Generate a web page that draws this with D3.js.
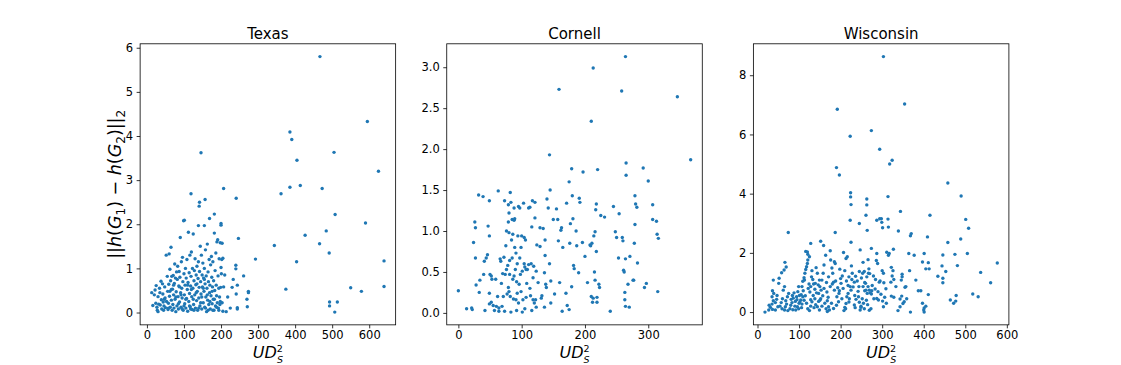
<!DOCTYPE html>
<html><head><meta charset="utf-8">
<script src="https://cdn.jsdelivr.net/npm/d3@7"></script>
<style>
body{margin:0;background:#fff}
svg{display:block}
text{font-family:"DejaVu Sans",sans-serif;fill:#000}
</style></head>
<body><svg id="c" width="1121" height="365"></svg>
<script>
const titles = ["Texas", "Cornell", "Wisconsin"];

const texasPoints = [
[13,0.45],[16,0.16],[22,0.51],[24,0.21],[25,0.61],[27,0.12],[28,0.05],[30,0.02],[30,0.36],[32,0.19],[34,0.55],[36,0.17],[38,0.71],[39,0.29],[40,0.08],[42,0.65],[43,0.42],[44,0.24],[46,0.15],[48,0.58],[49,0.33],[50,0.11],
[52,1.30],[55,0.82],[56,0.48],[57,0.07],[58,0.21],[59,0.64],[60,1.33],[61,0.37],[62,0.98],[63,0.12],[64,0.72],[65,1.48],[66,0.28],[67,0.82],[68,0.05],[69,0.53],[70,0.18],[71,0.84],[72,0.40],[73,0.10],[74,0.66],[75,1.10],[76,0.30],[77,0.78],[78,0.02],[79,0.47],[80,0.92],
[81,0.15],[82,0.75],[83,1.05],[84,0.36],[85,0.08],[86,0.60],[87,0.93],[88,0.24],[89,0.80],[90,1.70],[91,0.45],[92,0.12],[93,1.15],[94,0.55],[95,0.33],[96,1.25],[97,0.70],[98,0.05],[99,2.08],[100,0.88],[101,0.40],[102,0.20],[103,0.62],[104,1.00],[105,0.10],[106,0.78],[107,0.32],[108,1.20],[109,0.52],[110,0.03],
[111,0.68],[112,1.82],[113,0.25],[114,0.90],[115,0.43],[116,1.30],[117,0.13],[118,0.60],[119,0.82],[120,1.37],[121,0.36],[122,0.07],[123,1.00],[124,0.55],[125,1.78],[126,0.18],[127,0.72],[128,0.95],[129,0.40],[130,1.22],[131,0.10],[132,0.63],[133,0.85],[134,0.27],[135,1.05],[136,0.48],[137,0.05],[138,0.77],[139,1.15],[140,0.33],
[141,0.57],[142,0.93],[143,0.15],[144,1.50],[145,0.70],[146,0.42],[147,1.30],[148,0.08],[149,0.85],[150,0.58],[151,1.12],[152,0.22],[153,0.78],[154,0.48],[155,1.00],[156,0.12],[157,0.65],[158,1.42],[159,0.35],[160,0.83],[161,0.02],[162,0.55],[163,1.55],[164,0.28],[165,0.92],[166,0.70],[167,0.18],[168,1.20],[169,0.45],[170,0.62],
[171,0.08],[172,1.08],[173,0.38],[174,1.27],[175,0.80],[176,0.20],[177,0.58],[178,1.15],[179,0.30],[180,0.72],[181,0.05],[182,1.80],[183,0.50],[184,0.95],[185,0.15],[186,1.35],[187,0.62],[188,0.38],[189,1.60],[190,0.22],[191,1.65],[192,0.83],[193,0.10],[194,0.55],[195,1.22],[196,0.35],[197,0.18],[198,1.58],[199,0.57],[200,1.02],[201,0.88],[202,1.20],[203,0.22],[205,0.03],[207,0.58],
[20,0.40],[35,0.45],[45,0.05],[53,0.25],[66,0.52],[78,0.35],[88,0.58],[95,0.08],[105,0.30],[115,0.15],[120,0.52],[127,0.05],[133,0.45],[140,0.10],[148,0.35],[152,0.55],[158,0.10],[163,0.40],[170,0.25],[176,0.48],[182,0.30],[188,0.12],[194,0.05],[198,0.25],[110,0.62],[85,0.20],[62,0.48],[47,0.30],[72,0.62],[145,0.22],[125,0.30],[100,0.15],[135,0.65],[155,0.75],[165,0.05],[178,0.05],[92,0.40],[58,0.10],[118,0.08],
[467,5.80],[595,4.33],[386,4.09],[391,3.92],[146,3.62],[405,3.45],[505,3.63],[625,3.20],[386,2.84],[414,2.88],[362,2.69],[473,2.81],[119,2.69],[207,2.81],[241,2.59],[142,2.50],[141,2.41],[157,2.56],[508,2.22],[590,2.03],[182,2.23],[101,2.09],[155,1.97],[139,1.97],[169,2.13],[200,2.02],[200,1.98],[427,1.75],[484,1.85],[466,1.56],[344,1.52],[492,1.35],[640,1.17],[404,1.15],[293,1.21],[640,0.59],[550,0.56],[579,0.48],[375,0.53],[493,0.24],[514,0.24],[493,0.15],[507,0.01],[247,1.68],[261,0.83],[240,1.07],[240,0.99],[274,0.48],[274,0.45],[270,0.30],[271,0.13],[244,0.62],[241,0.42],[244,0.11],[244,0.08],[233,0.75],[214,0.02],[225,0.10],[230,0.57],[205,1.23],[203,1.57],[210,0.85],[218,0.35]
];

const cornellPoints = [
[0,0.27],[13,0.05],[21,0.06],[22,0.04],[24,0.86],[26,1.11],[27,1.04],[27,0.67],[28,0.34],[32,1.44],[33,0.25],[34,0.40],[39,1.42],[40,0.47],[41,0.63],[42,0.03],[44,0.67],[46,0.71],[47,1.06],[49,1.37],[49,0.94],[49,0.24],[49,0.11],[50,0.47],[52,0.45],[52,0.13],[53,0.41],[55,0.09],[57,0.03],[59,0.41],[60,0.08],[62,0.20],[63,1.49],[64,0.02],[64,0.06],[66,0.66],[67,0.63],[68,0.36],[69,0.08],[70,0.48],[71,0.20],[72,0.68],[73,1.37],[73,0.02],[74,0.47],[75,0.82],[76,0.53],[76,1.00],[77,0.23],[78,0.58],[79,1.32],[79,1.11],[79,0.31],[80,0.26],[80,0.98],[80,1.22],[81,0.47],[81,0.64],[82,1.47],[82,0.20],[83,0.01],[83,1.35],[84,0.89],[85,0.67],[85,1.14],[86,0.96],[86,0.41],[87,0.17],[88,1.13],[88,1.28],[88,0.45],[89,1.15],[89,0.80],[90,0.53],[91,0.16],[91,0.73],[92,0.38],[92,0.03],[93,0.24],[93,0.60],[94,0.94],[95,1.30],[95,0.12],[96,0.35],[97,0.67],[97,1.28],[98,0.47],[99,0.80],[99,0.26],[100,0.94],[101,0.01],[101,0.51],[102,0.16],[103,1.34],[104,0.60],[104,0.92],[105,0.05],[105,0.56],[106,0.89],[107,0.19],[107,0.53],[108,0.36],[109,0.53],[111,1.28],[111,0.59],[113,1.29],[113,0.30],[114,0.21],[115,0.60],[116,1.05],[116,0.03],[117,1.37],[118,0.16],[118,0.43],[119,0.57],[120,0.12],[121,1.35],[121,1.16],[122,0.16],[123,0.07],[123,0.51],[124,0.83],[126,0.37],[129,0.81],[129,1.04],[131,0.18],[132,0.21],[134,1.03],[136,0.49],[136,0.07],[137,0.70],[137,0.89],[138,0.35],[139,0.31],[140,1.39],[142,1.28],[144,0.60],[146,0.12],[146,0.39],[150,1.14],[152,0.23],[155,1.27],[157,1.14],[158,0.88],[160,0.37],[162,1.01],[163,1.04],[164,0.02],[165,0.80],[170,0.24],[171,1.34],[172,0.09],[175,0.04],[176,0.85],[177,1.09],[179,0.32],[180,1.43],[181,1.15],[182,0.58],[183,0.54],[186,1.00],[187,0.82],[190,0.49],[191,1.40],[192,1.35],[196,0.86],[200,0.69],[204,0.37],[208,0.83],[209,0.82],[210,0.20],[211,0.85],[212,0.13],[213,0.18],[214,0.94],[215,0.50],[216,0.99],[216,0.40],[217,1.26],[218,1.33],[218,0.75],[219,0.19],[219,0.13],[222,0.35],[223,0.31],[225,1.19],[231,1.17],[240,0.02],[245,1.30],[248,0.99],[250,0.92],[253,0.67],[254,1.21],[259,0.92],[260,0.88],[261,0.52],[262,0.50],[263,0.25],[263,0.16],[264,0.08],[264,0.66],[268,0.35],[270,0.07],[271,0.69],[276,0.40],[277,0.40],[278,0.85],[279,1.08],[279,1.43],[280,1.33],[282,1.29],[283,0.61],[294,0.31],[297,0.36],[307,1.32],[307,1.14],[313,1.12],[314,0.96],[315,0.26],[316,0.91],
[264,3.13],[213,2.99],[159,2.73],[258,2.71],[346,2.64],[210,2.34],[367,1.87],[144,1.93],[265,1.83],[179,1.76],[292,1.77],[197,1.72],[220,1.75],[265,1.68],[175,1.60],[300,1.61],[145,1.50]
];

const wisconsinPoints = [
[303,8.63],[354,7.03],[192,6.85],[274,6.13],[223,5.94],[294,5.50],[324,5.13],[318,5.00],[190,4.88],[197,4.63],[458,4.36],[490,3.92],[224,4.03],[224,3.89],[314,3.90],[263,3.82],[225,3.63],[263,3.62],[344,3.40],[261,3.27],[415,3.27],[298,3.15],[294,3.15],[314,3.14],[501,3.13],[223,3.10],[287,3.10],[245,2.99],[299,3.03],[301,2.85],[315,2.87],[508,2.83],[264,2.76],[339,2.74],[74,2.69],[187,2.69],[370,2.65],[368,2.58],[409,2.54],[489,2.47],[458,2.35],[152,2.39],[225,2.36],[128,2.32],[159,2.25],[274,2.15],[247,2.10],[327,2.12],[175,2.07],[116,2.05],
[577,1.66],[537,1.34],[505,1.98],[475,1.95],[481,1.57],[446,1.93],[453,1.37],[444,1.56],[434,1.21],[446,1.14],[446,0.99],[518,0.61],[531,0.52],[561,0.99],[464,0.41],[478,0.56],[477,0.37],[472,0.30],[411,1.67],[405,1.46],[413,1.46],[401,1.98],[397,1.69],[411,0.59],[401,0.14],[405,0.20],[397,0.30],[401,0.00],[400,0.07],[381,1.08],[387,0.72],[393,0.72],[364,1.98],[366,1.40],[377,1.92],[368,0.00],[348,1.28],[348,1.19],[346,1.08],[357,0.86],[355,0.84],[359,0.45],[338,0.05],[343,0.18],[347,0.54],[343,0.44],[350,0.29],[353,0.35],[333,0.86],[326,1.40],[322,1.51],[328,1.10],[324,1.22],[322,0.54],[328,0.50],[317,1.98],[315,1.92],[311,2.02],[321,1.01],[304,0.99],[303,1.31],[309,0.79],[301,0.37],[303,0.18],[295,1.05],[293,1.01],[287,1.98],[286,1.74],[289,1.64],[290,0.69],[287,0.46],[291,0.41],[279,1.22],[284,1.10],[275,0.72],[274,0.61],[266,1.77],[268,1.46],[267,1.31],[263,1.19],[260,0.97],[266,0.86],[261,0.74],[264,0.63],[269,0.74],[271,0.65],[269,0.06],[273,0.11],[254,1.68],[257,1.37],[253,1.31],[254,0.86],[258,0.72],[252,0.45],[249,0.20],[245,1.37],[244,0.86],[243,0.52],[245,0.33],[247,0.07],[257,0.11],[249,0.16],[236,1.21],[233,1.01],[234,0.56],[237,0.43],[233,0.24],[226,1.56],[228,1.31],[220,1.19],[223,0.86],[225,0.74],[218,0.63],[215,0.52],[220,0.34],[213,0.29],[210,0.16],[208,0.05],[212,0.11],[216,1.87],[213,1.81],[207,2.01],[200,1.13],[204,1.22],[201,0.97],[193,0.82],[197,0.72],[191,0.52],[196,0.63],[185,1.70],[187,1.64],[181,1.31],[183,1.01],[185,0.74],[190,0.23],[176,1.76],[179,1.49],[171,1.19],[175,0.86],[167,0.68],[168,0.38],[171,0.18],[168,0.02],[173,0.07],[165,0.11],[164,1.92],[160,1.59],[158,1.31],[155,1.08],[150,0.86],[153,0.74],[149,1.08],[147,0.63],[152,0.45],[147,0.36],[144,0.18],[149,0.07],[141,1.50],[144,1.31],[139,0.97],[138,0.77],[134,0.56],[138,0.45],[131,1.40],[130,1.19],[128,0.86],[126,0.68],[131,0.35],[128,0.20],[125,0.05],[121,0.11],[125,1.87],[121,1.76],[120,1.64],[118,1.53],[116,1.44],[114,1.31],[112,1.16],[113,1.08],[120,2.03],[121,1.95],[109,1.04],[107,0.86],[110,0.72],[105,0.59],[109,0.52],[104,0.41],[102,0.34],[107,0.27],[99,0.86],[97,0.69],[101,0.56],[94,0.52],[91,0.36],[96,0.18],[99,0.11],[92,0.07],[88,0.65],[84,0.56],[81,0.43],[83,0.32],[80,0.23],[78,0.11],[86,0.47],[75,0.63],[72,0.52],[68,0.38],[70,0.27],[67,0.18],[73,0.05],[65,0.07],[66,1.68],[69,1.52],[64,1.42],[58,1.33],[65,0.86],[62,0.74],[60,0.45],[57,0.32],[54,0.20],[59,0.11],[52,1.14],[51,0.97],[47,0.56],[46,0.43],[43,0.32],[49,0.18],[43,0.07],[38,1.08],[36,0.72],[39,0.63],[35,0.52],[38,0.38],[35,0.27],[31,0.16],[36,0.09],[28,0.23],[27,0.07],[18,0.00],
[115,0.55],[118,0.30],[122,0.80],[135,0.95],[140,0.25],[142,0.65],[146,0.92],[150,0.40],[155,0.20],[157,0.55],[160,0.80],[162,0.30],[166,1.00],[170,0.50],[178,0.30],[180,0.95],[183,0.12],[188,1.05],[195,0.35],[198,1.45],[203,0.45],[206,0.80],[210,1.40],[214,1.05],[218,0.90],[221,0.45],[227,1.10],[230,0.85],[235,0.15],[240,1.05],[242,0.70],[250,1.15],[255,0.30],[258,1.00],[262,0.40],[265,0.25],[270,1.30],[276,0.90],[280,0.45],[283,0.78],[297,0.60],[300,1.40],[306,0.50],[310,0.30],[133,1.10],[128,0.42],[112,0.40],[106,0.15],[95,0.42],[90,0.20],[85,0.08],[100,0.30],[124,0.95],[136,0.15]
];

const texasXTicks = [0, 100, 200, 300, 400, 500, 600];
const texasYTicks = [0, 1, 2, 3, 4, 5, 6];
const cornellXTicks = [0, 100, 200, 300];
const cornellYTicks = [0, 0.5, 1.0, 1.5, 2.0, 2.5, 3.0];
const wisconsinXTicks = [0, 100, 200, 300, 400, 500, 600];
const wisconsinYTicks = [0, 2, 4, 6, 8];

const panels = [
  {title: titles[0], pts: texasPoints, xt: texasXTicks, yt: texasYTicks, yf: d3.format("d"), ylabel: true},
  {title: titles[1], pts: cornellPoints, xt: cornellXTicks, yt: cornellYTicks, yf: d3.format(".1f"), ylabel: false},
  {title: titles[2], pts: wisconsinPoints, xt: wisconsinXTicks, yt: wisconsinYTicks, yf: d3.format("d"), ylabel: false}
];

const W = 1121, H = 365;
const figL = 0.125 * W, figR = 0.9 * W, axTop = 0.12 * H, axBottom = 0.89 * H;
const axW = (figR - figL) / (3 + 2 * 0.2), gap = 0.2 * axW;
const color = "#1f77b4";
const svg = d3.select("#c");

function padExtent(vals) {
  const [a, b] = d3.extent(vals);
  const m = (b - a) * 0.05;
  return [a - m, b + m];
}

panels.forEach((p, i) => {
  const x0 = figL + i * (axW + gap);
  const g = svg.append("g");
  const x = d3.scaleLinear().domain(padExtent(p.pts.map(d => d[0]))).range([x0, x0 + axW]);
  const y = d3.scaleLinear().domain(padExtent(p.pts.map(d => d[1]))).range([axBottom, axTop]);

  g.selectAll("circle").data(p.pts).join("circle")
    .attr("cx", d => x(d[0])).attr("cy", d => y(d[1]))
    .attr("r", 1.7).attr("fill", color);

  const xa = g.append("g").attr("transform", `translate(0,${axBottom})`)
    .call(d3.axisBottom(x).tickValues(p.xt).tickFormat(d3.format("d")).tickSize(3.5).tickPadding(2.5));
  const ya = g.append("g").attr("transform", `translate(${x0},0)`)
    .call(d3.axisLeft(y).tickValues(p.yt).tickFormat(p.yf).tickSize(3.5).tickPadding(3.5));
  [xa, ya].forEach(a => {
    a.select(".domain").remove();
    a.selectAll("line").attr("stroke", "#000").attr("stroke-width", 0.8);
    a.selectAll("text").attr("font-size", 11.5).attr("font-family", "DejaVu Sans").attr("fill", "#000");
  });

  g.append("rect").attr("x", x0).attr("y", axTop).attr("width", axW).attr("height", axBottom - axTop)
    .attr("fill", "none").attr("stroke", "#000").attr("stroke-width", 0.8);

  g.append("text").attr("x", x0 + axW / 2).attr("y", 39).attr("text-anchor", "middle")
    .attr("font-size", 15).text(p.title);

  // x label: UD with stacked superscript 2 and subscript S
  const xl = g.append("text").attr("x", x0 + axW / 2).attr("y", 357.5).attr("text-anchor", "middle")
    .attr("font-size", 16);
  xl.append("tspan").attr("font-style", "italic").text("UD");
  xl.append("tspan").attr("font-size", 9.5).attr("dy", -6).text("2");
  xl.append("tspan").attr("font-size", 9.5).attr("font-style", "italic").attr("dx", -6).attr("dy", 11.1).text("S");

  if (p.ylabel) {
    const yl = g.append("text").attr("transform", `translate(121,${(axTop + axBottom) / 2}) rotate(-90)`)
      .attr("text-anchor", "middle").attr("font-size", 17.5);
    const parts = [
      ["||", null], ["h", "italic"], ["(", null], ["G", "italic"], ["1", "sub"],
      [")", null], [" \u2212 ", null], ["h", "italic"], ["(", null], ["G", "italic"], ["2", "sub"],
      [")||", null], ["2", "sub"]
    ];
    let shifted = false;
    parts.forEach(([t, s]) => {
      const ts = yl.append("tspan").text(t);
      if (s === "italic") ts.attr("font-style", "italic");
      if (s === "sub") { ts.attr("font-size", 12).attr("dy", 3.8); shifted = true; }
      else if (shifted) { ts.attr("dy", -3.8); shifted = false; }
    });
  }
});
</script></body></html>
